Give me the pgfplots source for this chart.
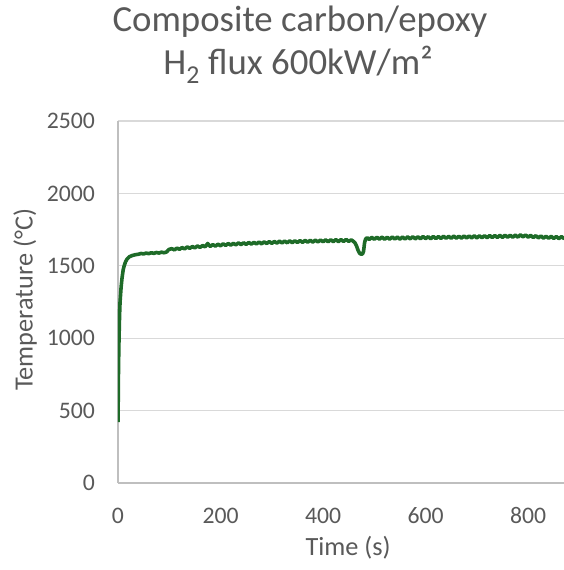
\documentclass[border=0pt]{standalone}
\usepackage{fontspec}
\setmainfont{Carlito}
\usepackage{pgfplots}
\pgfplotsset{compat=1.18}
\definecolor{txt}{HTML}{595959}
\definecolor{grd}{HTML}{D9D9D9}
\definecolor{axl}{HTML}{BFBFBF}
\definecolor{lin}{HTML}{1E6B28}
\begin{document}
\begin{tikzpicture}
\path[use as bounding box] (0,0) rectangle (564pt,570pt);
\begin{axis}[
 at={(118pt,87pt)}, anchor=south west,
 scale only axis, width=446pt, height=362pt,
 xmin=0, xmax=870, ymin=0, ymax=2500,
 xtick={0,200,...,800}, ytick={0,500,...,2500},
 axis x line=bottom, axis y line=left,
 axis line style={-, draw=axl, line width=1.3pt},
 ymajorgrids, grid style={draw=grd, line width=1.3pt},
 major tick length=0pt,
 tick label style={font=\fontsize{23.7}{28}\selectfont, text=txt},
 /pgf/number format/assume math mode=true,
 /pgf/number format/1000 sep={},
 xticklabel style={anchor=base, yshift=-40pt},
 yticklabel style={anchor=east, inner sep=0pt, xshift=-23pt},
 xlabel={Time (s)}, ylabel={Temperature (°C)},
 label style={font=\fontsize{26.3}{30}\selectfont, text=txt},
 xlabel style={at={(axis description cs:0.516,-0.179)}, anchor=center},
 ylabel style={at={(axis description cs:-0.2085,0.506)}, anchor=center},
 clip mode=individual,
]
\addplot[color=lin, line width=3.6pt, line join=round] coordinates {
(0,420) (0.5,600) (1,800) (2,1000) (3,1150) (4,1250) (6,1350) (8,1420) (10,1470) (12,1500) (15,1530) (18,1548) (22,1562) (27,1570) (33,1576) (40,1580) (45,1585) (50,1582) (55,1588) (60,1584) (65,1590) (70,1586) (75,1592) (80,1588) (85,1594) (90,1590) (95,1596) (98,1608)
(100,1614) (105,1618) (110,1610) (115,1622) (120,1614) (125,1626) (130,1617) (135,1630) (140,1621) (145,1633) (150,1624) (155,1637) (160,1627) (165,1640) (170,1631) (175,1654) (178,1640) (180,1634) (185,1646) (190,1636) (195,1649)
(200,1638) (205,1652) (210,1641) (215,1654) (220,1643) (225,1655) (230,1645) (235,1658) (240,1647) (245,1659) (250,1648) (255,1661) (260,1650) (265,1662) (270,1651) (275,1664) (280,1652) (285,1665) (290,1654) (295,1667)
(300,1655) (305,1668) (310,1657) (315,1670) (320,1658) (325,1671) (330,1659) (335,1672) (340,1660) (345,1673) (350,1661) (355,1674) (360,1662) (365,1675) (370,1663) (375,1676) (380,1664) (385,1677) (390,1665) (395,1678)
(400,1666) (405,1679) (410,1666) (415,1680) (420,1667) (425,1681) (430,1667) (435,1681) (440,1668) (445,1682) (450,1669) (455,1679) (458,1672) (462,1660) (465,1640) (468,1610) (471,1588) (474,1580) (477,1582) (479,1600) (481,1660) (483,1685) (486,1694) (490,1682) (495,1696)
(500,1683) (505,1697) (510,1684) (515,1698) (520,1683) (525,1697) (530,1684) (535,1699) (540,1685) (545,1698) (550,1684) (555,1699) (560,1685) (565,1700) (570,1686) (575,1701) (580,1686) (585,1700) (590,1687) (595,1702)
(600,1688) (605,1701) (610,1687) (615,1703) (620,1688) (625,1702) (630,1689) (635,1704) (640,1690) (645,1703) (650,1690) (655,1705) (660,1691) (665,1704) (670,1691) (675,1706) (680,1692) (685,1706) (690,1693) (695,1707)
(700,1693) (705,1707) (710,1694) (715,1708) (720,1694) (725,1709) (730,1695) (735,1709) (740,1696) (745,1710) (750,1696) (755,1711) (760,1697) (765,1711) (770,1697) (775,1712) (780,1698) (785,1714) (790,1700) (795,1713)
(800,1698) (805,1710) (810,1695) (815,1708) (820,1693) (825,1706) (830,1691) (835,1704) (840,1690) (845,1703) (850,1689) (855,1702) (860,1688) (865,1701) (870,1689) (875,1696)
};
\end{axis}
\node[anchor=base, font=\fontsize{36.8}{44}\selectfont, text=txt] at (300pt,538pt) {Composite carbon/epoxy};
\node[anchor=base, font=\fontsize{36.8}{44}\selectfont, text=txt] at (298pt,495pt) {H\textsubscript{2} flux 600kW/m²};
\end{tikzpicture}
\end{document}
